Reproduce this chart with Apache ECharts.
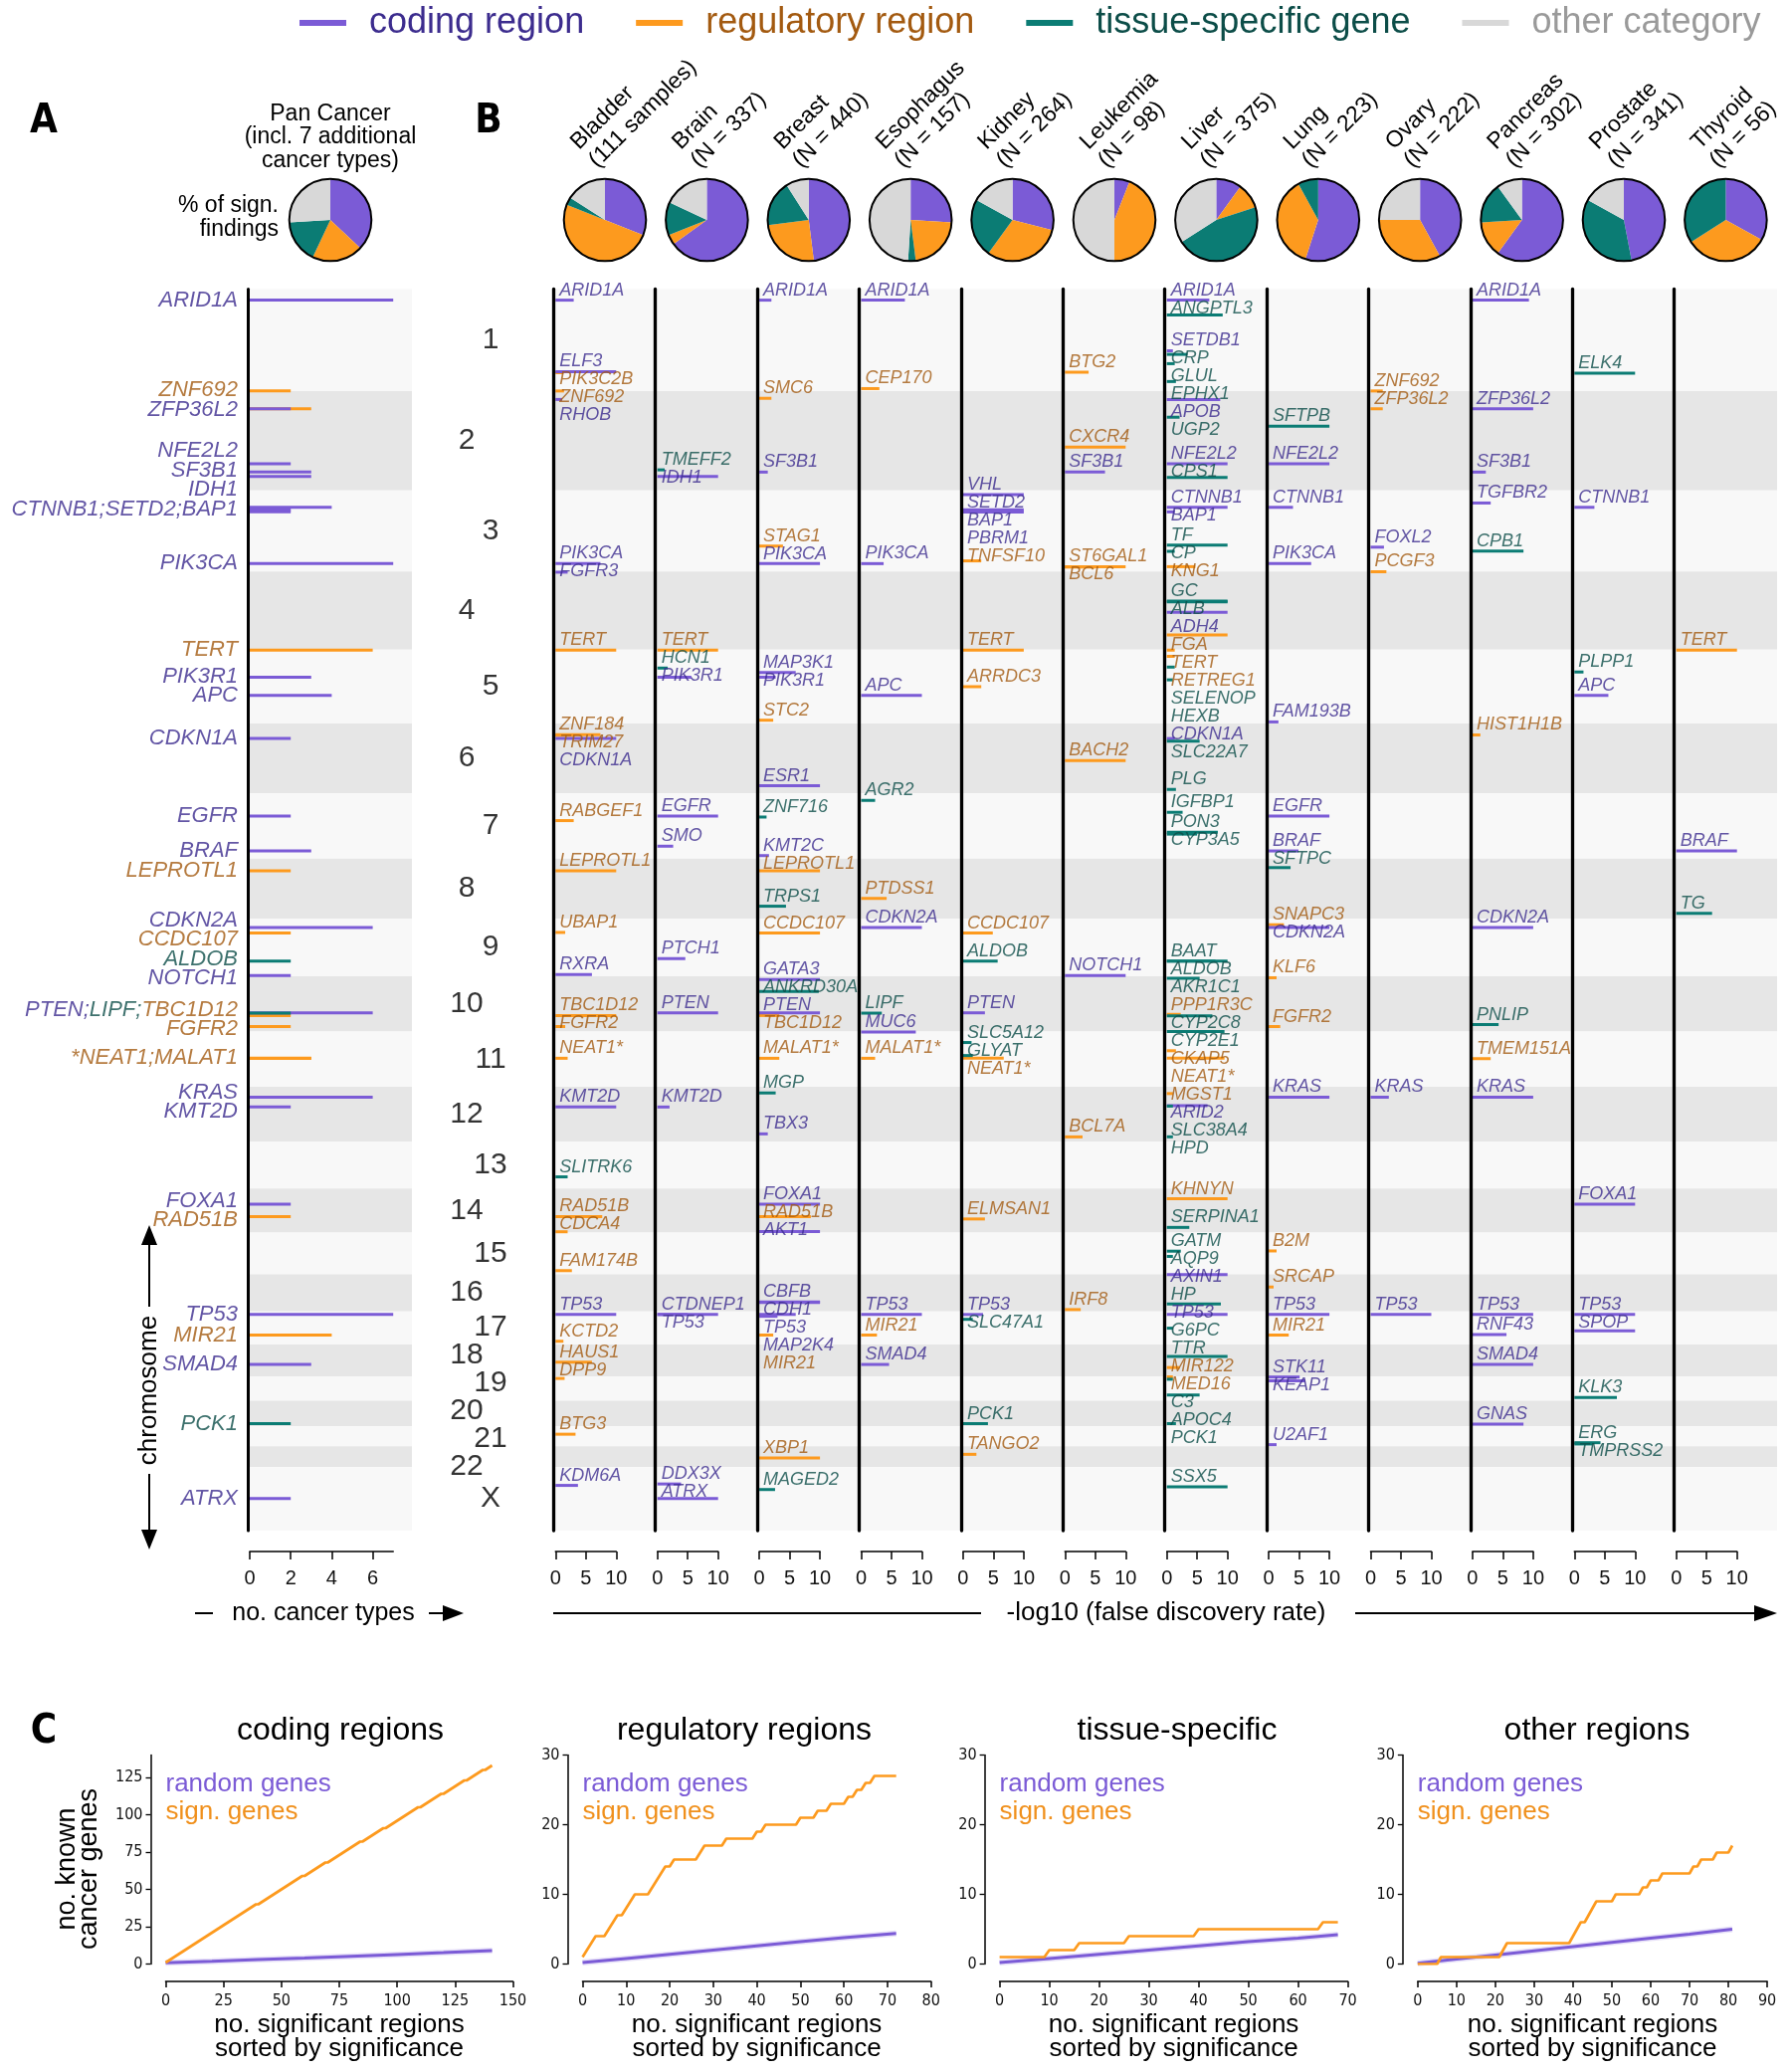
<!DOCTYPE html>
<html>
<head>
<meta charset="utf-8">
<title>Significant regions per cancer type</title>
<script src="https://cdn.jsdelivr.net/npm/echarts@6.0.0/dist/echarts.min.js"></script>
<style>
html,body{margin:0;padding:0;background:#ffffff;}
#chart{width:1800px;height:2082px;}
</style>
</head>
<body>
<div id="chart"></div>
<script>
// ======================= DATA =======================
const chromNames = ['1','2','3','4','5','6','7','8','9','10','11','12','13','14','15','16','17','18','19','20','21','22','X'];
const chromLengthsMb = [249.25,243.20,198.02,191.15,180.92,171.12,159.14,146.36,141.21,135.53,135.01,133.85,115.17,107.35,102.53,90.35,81.20,78.08,59.13,63.03,48.13,51.30,155.27];

// gene -> [chromosome, position in Mb]
const geneLocations = {
  ARID1A:['1',27.0], ELF3:['1',201.98], PIK3C2B:['1',204.4], ZNF692:['1',249.1], ANGPTL3:['1',63.06], SETDB1:['1',150.9],
  CRP:['1',159.68], GLUL:['1',182.35], EPHX1:['1',226.0], CEP170:['1',243.3], BTG2:['1',203.27], ELK4:['1',205.6],
  RHOB:['2',20.65], ZFP36L2:['2',43.45], NFE2L2:['2',178.1], SF3B1:['2',198.26], IDH1:['2',209.1], TMEFF2:['2',192.8],
  SMC6:['2',17.8], CXCR4:['2',136.87], APOB:['2',21.2], UGP2:['2',64.07], CPS1:['2',211.4], SFTPB:['2',85.9],
  CTNNB1:['3',41.24], SETD2:['3',47.1], BAP1:['3',52.4], PBRM1:['3',52.6], VHL:['3',10.18], PIK3CA:['3',178.9],
  FOXL2:['3',138.66], TGFBR2:['3',30.65], CPB1:['3',148.5], TF:['3',133.46], CP:['3',148.9], ST6GAL1:['3',186.6],
  BCL6:['3',187.4], TNFSF10:['3',172.2], KNG1:['3',186.4], STAG1:['3',136.0],
  FGFR3:['4',1.8], PCGF3:['4',0.7], GC:['4',72.6], ALB:['4',74.27], ADH4:['4',100.0], FGA:['4',155.5],
  TERT:['5',1.3], PIK3R1:['5',67.5], APC:['5',112.1], MAP3K1:['5',56.1], HCN1:['5',45.2], ARRDC3:['5',90.7],
  RETREG1:['5',16.5], SELENOP:['5',42.8], HEXB:['5',74.0], PLPP1:['5',54.8], FAM193B:['5',176.9], STC2:['5',172.7],
  ZNF184:['6',27.4], TRIM27:['6',28.9], CDKN1A:['6',36.6], HIST1H1B:['6',27.8], ESR1:['6',152.1], BACH2:['6',90.6],
  SLC22A7:['6',43.3], PLG:['6',161.1],
  RABGEF1:['7',66.2], EGFR:['7',55.1], SMO:['7',128.8], KMT2C:['7',151.8], BRAF:['7',140.4], IGFBP1:['7',45.9],
  PON3:['7',94.9], CYP3A5:['7',99.2], AGR2:['7',16.8], ZNF716:['7',57.5],
  LEPROTL1:['8',29.95], PTDSS1:['8',97.3], TRPS1:['8',116.4], SFTPC:['8',22.0], TG:['8',133.9],
  CDKN2A:['9',21.97], CCDC107:['9',35.6], ALDOB:['9',104.2], NOTCH1:['9',139.4], UBAP1:['9',34.2], RXRA:['9',137.2],
  PTCH1:['9',98.2], BAAT:['9',104.1], SNAPC3:['9',15.4],
  PTEN:['10',89.6], LIPF:['10',90.4], TBC1D12:['10',96.1], FGFR2:['10',123.2], AKR1C1:['10',5.0], GATA3:['10',8.1],
  KLF6:['10',3.8], PPP1R3C:['10',93.4], CYP2C8:['10',96.8], CYP2E1:['10',135.3], ANKRD30A:['10',37.4], PNLIP:['10',118.3],
  NEAT1:['11',65.19], MALAT1:['11',65.27], GLYAT:['11',58.5], CKAP5:['11',46.8], MUC6:['11',1.0], SLC5A12:['11',26.7],
  TMEM151A:['11',66.1],
  KRAS:['12',25.4], KMT2D:['12',49.4], MGST1:['12',16.5], MGP:['12',15.03], ARID2:['12',46.1], SLC38A4:['12',47.2],
  HPD:['12',122.3], TBX3:['12',115.1], BCL7A:['12',122.5],
  SLITRK6:['13',86.4],
  FOXA1:['14',38.06], RAD51B:['14',68.3], KHNYN:['14',24.9], SERPINA1:['14',94.85], ELMSAN1:['14',74.2], AKT1:['14',105.2],
  CDCA4:['14',105.5],
  GATM:['15',45.6], B2M:['15',45.0], AQP9:['15',58.4], FAM174B:['15',93.2],
  CBFB:['16',67.1], CDH1:['16',68.8], AXIN1:['16',0.34], HP:['16',72.1], SRCAP:['16',30.7], IRF8:['16',85.9],
  TP53:['17',7.57], CTDNEP1:['17',7.15], MIR21:['17',57.9], MAP2K4:['17',12.0], RNF43:['17',56.4], SPOP:['17',47.7],
  KCTD2:['17',73.0], SLC47A1:['17',19.4], G6PC:['17',41.05],
  SMAD4:['18',48.6], TTR:['18',29.17], HAUS1:['18',42.7], MIR122:['18',56.1],
  DPP9:['19',4.7], STK11:['19',1.2], KEAP1:['19',10.6], MED16:['19',0.87], C3:['19',6.7], APOC4:['19',45.4], KLK3:['19',51.36],
  PCK1:['20',56.1], GNAS:['20',57.4],
  ERG:['21',39.75], TMPRSS2:['21',42.85], U2AF1:['21',44.5], BTG3:['21',18.96],
  XBP1:['22',29.19], TANGO2:['22',20.0],
  MAGED2:['X',54.8], SSX5:['X',48.0], KDM6A:['X',44.7], DDX3X:['X',41.2], ATRX:['X',76.8]
};

const categoryNames = { c:'coding region', r:'regulatory region', t:'tissue-specific gene', o:'other category' };

// Panel A: number of cancer types with the region significant
const panCancerBars = [
  ['ARID1A','c',7],['ZNF692','r',2],['ZFP36L2','r',3],['ZFP36L2','c',2],['NFE2L2','c',2],['SF3B1','c',3],['IDH1','c',3],
  ['CTNNB1','c',4],['SETD2','c',2],['BAP1','c',2],['PIK3CA','c',7],['TERT','r',6],['PIK3R1','c',3],['APC','c',4],
  ['CDKN1A','c',2],['EGFR','c',2],['BRAF','c',3],['LEPROTL1','r',2],['CDKN2A','c',6],['CCDC107','r',2],['ALDOB','t',2],
  ['NOTCH1','c',2],['PTEN','c',6],['LIPF','t',2],['TBC1D12','r',2],['FGFR2','r',2],['NEAT1','r',3],['MALAT1','r',3],
  ['KRAS','c',6],['KMT2D','c',2],['FOXA1','c',2],['RAD51B','r',2],['TP53','c',7],['MIR21','r',4],['SMAD4','c',3],
  ['PCK1','t',2],['ATRX','c',2]
];
const panCancerLabels = [
  ['ARID1A',[['ARID1A','c']]], ['ZNF692',[['ZNF692','r']]], ['ZFP36L2',[['ZFP36L2','c']]], ['NFE2L2',[['NFE2L2','c']]],
  ['SF3B1',[['SF3B1','c']]], ['IDH1',[['IDH1','c']]], ['CTNNB1',[['CTNNB1;SETD2;BAP1','c']]], ['PIK3CA',[['PIK3CA','c']]],
  ['TERT',[['TERT','r']]], ['PIK3R1',[['PIK3R1','c']]], ['APC',[['APC','c']]], ['CDKN1A',[['CDKN1A','c']]],
  ['EGFR',[['EGFR','c']]], ['BRAF',[['BRAF','c']]], ['LEPROTL1',[['LEPROTL1','r']]], ['CDKN2A',[['CDKN2A','c']]],
  ['CCDC107',[['CCDC107','r']]], ['ALDOB',[['ALDOB','t']]], ['NOTCH1',[['NOTCH1','c']]],
  ['PTEN',[['PTEN;','c'],['LIPF;','t'],['TBC1D12','r']]], ['FGFR2',[['FGFR2','r']]], ['NEAT1',[['*NEAT1;MALAT1','r']]],
  ['KRAS',[['KRAS','c']]], ['KMT2D',[['KMT2D','c']]], ['FOXA1',[['FOXA1','c']]], ['RAD51B',[['RAD51B','r']]],
  ['TP53',[['TP53','c']]], ['MIR21',[['MIR21','r']]], ['SMAD4',[['SMAD4','c']]], ['PCK1',[['PCK1','t']]], ['ATRX',[['ATRX','c']]]
];
// share of significant findings per category [coding, regulatory, tissue-specific, other] (%)
const panCancerShares = [37, 20, 17, 26];

const cancerTypes = ['Bladder','Brain','Breast','Esophagus','Kidney','Leukemia','Liver','Lung','Ovary','Pancreas','Prostate','Thyroid'];
const cancerSampleNotes = ['(111 samples)','(N = 337)','(N = 440)','(N = 157)','(N = 264)','(N = 98)','(N = 375)','(N = 223)','(N = 222)','(N = 302)','(N = 341)','(N = 56)'];
const cancerShares = [
  [31,50,3,16],[65,4,13,18],[48,25,18,9],[26,22,3,49],[29,31,23,17],[6,44,0,50],
  [10,10,46,34],[55,37,8,0],[42,33,0,25],[60,14,16,10],[47,0,36,17],[33,33,34,0]
];

// Panel B: [gene, category, -log10 FDR]
const bladderHits = [['ARID1A','c',3],['ELF3','c',10],['PIK3C2B','r',1.3],['ZNF692','r',1.4],['RHOB','c',1.1],['PIK3CA','c',7.4],
  ['FGFR3','c',2],['TERT','r',10],['ZNF184','r',7.4],['TRIM27','r',3],['CDKN1A','c',10],['RABGEF1','r',3],['LEPROTL1','r',10],
  ['UBAP1','r',1.6],['RXRA','c',6],['TBC1D12','r',10],['FGFR2','r',1.6],['NEAT1*','r',2],['KMT2D','c',10],['SLITRK6','t',2],
  ['RAD51B','r',7.7],['CDCA4','r',2],['FAM174B','r',2.7],['TP53','c',10],['KCTD2','r',1.3],['HAUS1','r',6],['DPP9','r',1.5],
  ['BTG3','r',3.3],['KDM6A','c',3.7]];
const brainHits = [['TMEFF2','t',1.2],['IDH1','c',10],['TERT','r',10],['HCN1','t',1.7],['PIK3R1','c',5.6],['EGFR','c',10],
  ['SMO','c',2.6],['PTCH1','c',4.6],['PTEN','c',10],['KMT2D','c',2],['CTDNEP1','c',10],['TP53','c',5],['DDX3X','c',3.9],['ATRX','c',10]];
const breastHits = [['ARID1A','c',2],['SMC6','r',2],['SF3B1','c',1.4],['STAG1','r',3.9],['PIK3CA','c',10],['MAP3K1','c',6],
  ['PIK3R1','c',2.7],['STC2','r',2.3],['ESR1','c',10],['ZNF716','t',1.2],['KMT2C','c',1.6],['LEPROTL1','r',10],['TRPS1','t',4.4],
  ['CCDC107','r',10],['GATA3','c',10],['ANKRD30A','t',9.8],['PTEN','c',10],['TBC1D12','r',3.3],['MALAT1*','r',3.3],['MGP','t',2.7],
  ['TBX3','c',1.4],['FOXA1','c',10],['RAD51B','r',8.5],['AKT1','c',10],['CBFB','c',10],['CDH1','c',10],['TP53','c',6],
  ['MAP2K4','c',3],['MIR21','r',2.3],['XBP1','r',10],['MAGED2','t',2.6]];
const esophagusHits = [['ARID1A','c',7.2],['CEP170','r',3],['PIK3CA','c',3.7],['APC','c',10],['AGR2','t',2.3],['PTDSS1','r',4.2],
  ['CDKN2A','c',10],['LIPF','t',3.4],['MUC6','c',9],['MALAT1*','r',2.3],['TP53','c',10],['MIR21','r',2.6],['SMAD4','c',4.6]];
const kidneyHits = [['VHL','c',10],['SETD2','c',10],['BAP1','c',6],['PBRM1','c',10],['TNFSF10','r',3],['TERT','r',10],['ARRDC3','r',3],
  ['CCDC107','r',4.9],['ALDOB','t',5.7],['PTEN','c',3.6],['SLC5A12','t',1.4],['GLYAT','t',1.6],['NEAT1*','r',6.7],['ELMSAN1','r',3.6],
  ['TP53','c',3.3],['SLC47A1','t',1.6],['PCK1','t',4.1],['TANGO2','r',2.2]];
const leukemiaHits = [['BTG2','r',3.9],['CXCR4','r',10],['SF3B1','c',6.6],['ST6GAL1','r',10],['BCL6','r',5],['BACH2','r',10],
  ['NOTCH1','c',10],['BCL7A','r',2.9],['IRF8','r',2.6]];
const liverHits = [['ARID1A','c',7],['ANGPTL3','t',9.2],['SETDB1','c',1],['CRP','t',3.4],['GLUL','t',1.3],['EPHX1','t',1.5],
  ['APOB','c',8.8],['UGP2','t',2.1],['NFE2L2','c',10],['CPS1','t',10],['CTNNB1','c',10],['BAP1','c',1.3],['TF','t',10],['CP','t',1.3],
  ['KNG1','r',4.7],['GC','t',10],['ALB','t',10],['ADH4','c',10],['FGA','r',10],['TERT','r',1.3],['RETREG1','r',1.3],['SELENOP','t',1.3],
  ['HEXB','t',1.0],['CDKN1A','c',1.3],['SLC22A7','t',5.4],['PLG','t',1.5],['IGFBP1','t',2.6],['PON3','t',8.4],['CYP3A5','t',5],
  ['BAAT','t',10],['ALDOB','t',8],['AKR1C1','t',5.4],['PPP1R3C','r',2.3],['CYP2C8','t',7.5],['CYP2E1','t',9.5],['CKAP5','r',1.5],
  ['NEAT1*','r',9.5],['MGST1','r',1.0],['ARID2','c',6.7],['SLC38A4','t',1.0],['HPD','t',1.0],['KHNYN','r',10],['SERPINA1','t',3.7],
  ['GATM','t',2.3],['AQP9','t',1.0],['AXIN1','c',10],['HP','t',8.9],['TP53','c',10],['G6PC','t',1.0],['TTR','t',10],['MIR122','r',2.1],
  ['MED16','r',1.0],['C3','t',1.0],['APOC4','t',5.4],['PCK1','t',1.5],['SSX5','t',10]];
const lungHits = [['SFTPB','t',10],['NFE2L2','c',10],['CTNNB1','c',4],['PIK3CA','c',7],['FAM193B','c',1.6],['EGFR','c',10],['BRAF','c',4.9],
  ['SFTPC','t',3.6],['SNAPC3','r',2.5],['CDKN2A','c',10],['KLF6','r',1.3],['FGFR2','r',1.9],['KRAS','c',10],['B2M','r',1.3],
  ['SRCAP','r',0.8],['TP53','c',10],['MIR21','r',3.3],['STK11','c',5.1],['KEAP1','c',6],['U2AF1','c',1.3]];
const ovaryHits = [['ZNF692','r',2],['ZFP36L2','r',2],['FOXL2','c',2.2],['PCGF3','r',2.6],['KRAS','c',3],['TP53','c',10]];
const pancreasHits = [['ARID1A','c',9.3],['ZFP36L2','c',10],['SF3B1','c',2.2],['TGFBR2','c',3],['CPB1','t',8.4],['HIST1H1B','r',1.3],
  ['CDKN2A','c',10],['PNLIP','t',4.3],['TMEM151A','r',3],['KRAS','c',10],['TP53','c',10],['RNF43','c',5.6],['SMAD4','c',10],['GNAS','c',8.4]];
const prostateHits = [['ELK4','t',10],['CTNNB1','c',3.3],['PLPP1','t',1.5],['APC','c',5.6],['FOXA1','c',10],['TP53','c',10],['SPOP','c',10],
  ['KLK3','t',7],['ERG','t',4.3],['TMPRSS2','t',3]];
const thyroidHits = [['TERT','r',10],['BRAF','c',10],['TG','t',5.9]];
const cancerHits = [bladderHits, brainHits, breastHits, esophagusHits, kidneyHits, leukemiaHits, liverHits, lungHits, ovaryHits, pancreasHits, prostateHits, thyroidHits];

// Panel C: cumulative no. of known cancer genes among the top-k regions
const codingSign = [1,2,3,4,5,6,7,8,9,10,11,12,13,14,15,16,17,18,19,20,21,22,23,24,25,26,27,28,29,30,31,32,33,34,35,36,37,38,39,40,
  40,41,42,43,44,45,46,47,48,49,50,51,52,53,54,55,56,57,58,59,59,60,61,62,63,64,65,66,67,68,68,
  69,70,71,72,73,74,75,76,77,78,79,80,81,82,82,83,84,85,86,87,88,89,90,91,91,
  92,93,94,95,96,97,98,99,100,101,102,103,104,105,105,106,107,108,109,110,111,112,113,114,114,
  115,116,117,118,119,120,121,122,123,123,124,125,126,127,128,129,130,130,131,132,133];
const codingRandom = [[0,0.8],[20,1.8],[40,3.0],[60,4.0],[80,5.2],[100,6.4],[120,7.6],[141,9.0]];
const regulatorySign = [1,2,3,4,4,4,5,6,7,7,8,9,10,10,10,10,11,12,13,14,14,15,15,15,15,15,15,16,17,17,17,17,17,
  18,18,18,18,18,18,18,19,19,20,20,20,20,20,20,20,20,21,21,21,21,22,22,22,23,23,23,23,24,24,25,25,26,26,27,27,27,27,27,27];
const regulatoryRandom = [[0,0.2],[10,0.8],[20,1.4],[30,2.0],[40,2.6],[50,3.2],[60,3.8],[72,4.4]];
const tissueSign = [1,1,1,1,1,1,1,1,1,1,2,2,2,2,2,2,3,3,3,3,3,3,3,3,3,3,4,4,4,4,4,4,4,4,4,4,4,4,4,4,
  5,5,5,5,5,5,5,5,5,5,5,5,5,5,5,5,5,5,5,5,5,5,5,5,5,6,6,6,6];
const tissueRandom = [[0,0.2],[10,0.8],[20,1.4],[30,2.0],[40,2.6],[50,3.2],[60,3.7],[68,4.2]];
const otherSign = [0,0,0,0,0,0,1,1,1,1,1,1,1,1,1,1,1,1,1,1,1,1,2,3,3,3,3,3,3,3,3,3,3,3,3,3,3,3,3,3,
  4,5,6,6,7,8,9,9,9,9,9,10,10,10,10,10,10,10,11,11,12,12,12,13,13,13,13,13,13,13,13,14,14,15,15,15,15,16,16,16,16,17];
const otherRandom = [[0,0.1],[10,0.7],[20,1.3],[30,1.9],[40,2.5],[50,3.1],[60,3.7],[70,4.3],[81,5.0]];

// ======================= STYLE / LAYOUT =======================
const FONT = "'Liberation Sans', Arial, Helvetica, sans-serif";
const NARROW = "'Liberation Sans Narrow', 'Arial Narrow', 'DejaVu Sans Condensed', 'Liberation Sans', sans-serif";
const barColors = { c:'#7B5BD6', r:'#FD9A1E', t:'#0B7C74', o:'#D8D8D8' };
const textColors = { c:'#3C2C8E', r:'#A35A10', t:'#0C4D48', o:'#9A9A9A' };
const drawOrder = { r:0, c:1, t:2 };
const PLOT_TOP = 290.5, PLOT_H = 1247.5;
const A_LEFT = 251, A_PPU = 20.6;
const B_LEFT0 = 558.3, B_STEP = 102.4, B_PPU = 6.1;
const PIE_X0 = 608, PIE_Y = 221, PIE_R = 41.3;
const TITLE_Y = 1621;

// cumulative genome coordinates
const chromStart = [];
let genomeTotal = 0;
chromLengthsMb.forEach(L => { chromStart.push(genomeTotal); genomeTotal += L; });
const MB_PX = PLOT_H / genomeTotal;
function genomePos(gene) {
  const loc = geneLocations[gene.replace('*', '')];
  return chromStart[chromNames.indexOf(loc[0])] + loc[1];
}
// label de-overlap (labels slide downwards)
function pushDown(desired, gap) {
  const idx = desired.map((d, i) => i).sort((a, b) => desired[a] - desired[b]);
  const out = []; let prev = -Infinity;
  idx.forEach(i => { const p = Math.max(desired[i], prev + gap); out[i] = p; prev = p; });
  return out;
}
// label de-overlap (symmetric clusters)
function clusterRepel(desired, gap) {
  const idx = desired.map((d, i) => i).sort((a, b) => desired[a] - desired[b]);
  const cl = [];
  const place = c => { let s = 0; c.m.forEach((i, k) => { s += desired[i] - k * gap; }); c.s = s / c.m.length; };
  idx.forEach(i => {
    const c = { m: [i] }; place(c); cl.push(c);
    while (cl.length > 1) {
      const p = cl[cl.length - 2], q = cl[cl.length - 1];
      if (p.s + p.m.length * gap > q.s) { p.m = p.m.concat(q.m); place(p); cl.pop(); } else break;
    }
  });
  const out = [];
  cl.forEach(c => c.m.forEach((i, k) => { out[i] = c.s + k * gap; }));
  return out;
}

const grid = [], xAxis = [], yAxis = [], series = [], graphic = [];
function addGrid(rect, xa, ya) {
  const i = grid.length;
  grid.push(Object.assign({ containLabel: false, outerBoundsMode: 'none' }, rect));
  xAxis.push(Object.assign({ gridIndex: i }, xa));
  yAxis.push(Object.assign({ gridIndex: i }, ya));
  return i;
}
const hiddenAxis = (min, max) => ({ type: 'value', min: min, max: max, show: false });
function genomeAxis(extra) {
  return Object.assign({ type: 'value', inverse: true, min: 0, max: genomeTotal,
    axisLine: { show: false, onZero: false }, axisTick: { show: false }, axisLabel: { show: false }, splitLine: { show: false } }, extra || {});
}
function bottomAxis(max, ticks, offset, fontSize, labelFont, margin, tickLen) {
  return { type: 'value', min: 0, max: max, position: 'bottom', offset: offset, z: 6,
    axisLine: { show: true, onZero: false, lineStyle: { color: '#000', width: 1.6 } },
    axisTick: { show: true, length: tickLen, customValues: ticks, lineStyle: { color: '#000', width: 1.5 } },
    axisLabel: { show: true, customValues: ticks, fontSize: fontSize, color: '#111', margin: margin, fontFamily: labelFont },
    splitLine: { show: false } };
}
const bandData = chromNames.map((n, i) => [0, chromStart[i], chromStart[i] + chromLengthsMb[i], i]);
function bandSeries(gi) {
  return { type: 'custom', xAxisIndex: gi, yAxisIndex: gi, silent: true, z: 0, encode: { x: 0, y: [1, 2] }, data: bandData,
    renderItem: (params, api) => {
      const cs = params.coordSys;
      const y0 = api.coord([0, api.value(1)])[1], y1 = api.coord([0, api.value(2)])[1];
      return { type: 'rect', shape: { x: cs.x, y: y0, width: cs.width, height: y1 - y0 },
        style: { fill: api.value(3) % 2 ? '#E6E6E6' : '#F8F8F8' } };
    } };
}
function barSeries(gi, hits, thick) {
  const items = hits.slice().sort((a, b) => drawOrder[a[1]] - drawOrder[b[1]])
    .map(h => ({ value: [h[2], genomePos(h[0])], cat: h[1] }));
  return { type: 'custom', xAxisIndex: gi, yAxisIndex: gi, silent: true, z: 3, encode: { x: 0, y: 1 },
    data: items.map(d => d.value),
    renderItem: (params, api) => {
      const p0 = api.coord([0, api.value(1)]), p1 = api.coord([api.value(0), api.value(1)]);
      return { type: 'rect', shape: { x: p0[0], y: p0[1] - thick / 2, width: p1[0] - p0[0], height: thick },
        style: { fill: barColors[items[params.dataIndex].cat] } };
    } };
}

// ---------- Panel A ----------
const gABg = addGrid({ left: A_LEFT, top: PLOT_TOP, width: 163, height: PLOT_H }, hiddenAxis(0, 1), genomeAxis({ show: false }));
series.push(bandSeries(gABg));
const gA = addGrid({ left: A_LEFT, top: PLOT_TOP, width: 7 * A_PPU, height: PLOT_H },
  bottomAxis(7, [0, 2, 4, 6], 21, 20, FONT, 17, 8),
  genomeAxis({ offset: 1.5, z: 6, axisLine: { show: true, onZero: false, lineStyle: { color: '#000', width: 3 } } }));
series.push(barSeries(gA, panCancerBars, 3));
{
  const desired = panCancerLabels.map(l => genomePos(l[0]));
  const pos = clusterRepel(desired, 19.5 / MB_PX);
  const rich = {};
  ['c', 'r', 't'].forEach(k => { rich[k] = { color: textColors[k], fontSize: 22, fontStyle: 'italic', fontFamily: FONT }; });
  series.push({ type: 'scatter', xAxisIndex: gA, yAxisIndex: gA, silent: true, clip: false, z: 7, symbolSize: 0,
    itemStyle: { color: 'rgba(0,0,0,0)' },
    data: panCancerLabels.map((l, i) => ({ value: [0, pos[i]], name: l[1].map(p => '{' + p[1] + '|' + p[0] + '}').join('') })),
    label: { show: true, formatter: p => p.name, position: [-12, 0], align: 'right', verticalAlign: 'middle', rich: rich } });
}

// chromosome numbers
{
  const gChr = addGrid({ left: 469, top: PLOT_TOP, width: 24, height: PLOT_H }, hiddenAxis(0, 1), genomeAxis({ show: false }));
  const mids = chromNames.map((n, i) => chromStart[i] + chromLengthsMb[i] / 2);
  const pos = clusterRepel(mids, 28 / MB_PX);
  series.push({ type: 'scatter', xAxisIndex: gChr, yAxisIndex: gChr, silent: true, clip: false, z: 7, symbolSize: 0,
    itemStyle: { color: 'rgba(0,0,0,0)' },
    data: chromNames.map((n, i) => ({ value: [i % 2 === 0 ? 1 : 0, pos[i]], name: n })),
    label: { show: true, formatter: p => p.name, position: [0, 0], align: 'center', verticalAlign: 'middle',
      fontSize: 30, color: '#000', fontFamily: FONT } });
}

// ---------- Panel B ----------
const gBBg = addGrid({ left: 558, top: PLOT_TOP, width: 1228, height: PLOT_H }, hiddenAxis(0, 1), genomeAxis({ show: false }));
series.push(bandSeries(gBBg));
cancerHits.forEach((hits, ci) => {
  const gi = addGrid({ left: B_LEFT0 + ci * B_STEP, top: PLOT_TOP, width: 10 * B_PPU, height: PLOT_H },
    bottomAxis(10, [0, 5, 10], 21, 20, FONT, 17, 8),
    genomeAxis({ offset: 2, z: 6, axisLine: { show: true, onZero: false, lineStyle: { color: '#000', width: 3.3 } } }));
  series.push(barSeries(gi, hits, 3));
  const desired = hits.map(h => genomePos(h[0]));
  const pos = pushDown(desired, 18 / MB_PX);
  series.push({ type: 'scatter', xAxisIndex: gi, yAxisIndex: gi, silent: true, clip: false, z: 7, symbolSize: 0,
    itemStyle: { color: 'rgba(0,0,0,0)' },
    data: hits.map((h, i) => ({ value: [0, pos[i]], name: h[0], label: { color: textColors[h[1]] } })),
    label: { show: true, formatter: p => p.name, position: [4, -10], align: 'left', verticalAlign: 'middle',
      fontSize: 18, fontStyle: 'italic', fontFamily: FONT } });
});

// ---------- Pies ----------
function pieSeries(cx, shares) {
  return { type: 'pie', center: [cx, PIE_Y], radius: PIE_R, silent: true, startAngle: 90, clockwise: true,
    label: { show: false }, labelLine: { show: false }, emphasis: { disabled: true },
    itemStyle: { borderWidth: 0 },
    data: ['c', 'r', 't', 'o'].map((k, i) => ({ name: categoryNames[k], value: shares[i], itemStyle: { color: barColors[k] } })) };
}
series.push(pieSeries(332, panCancerShares));
graphic.push({ type: 'circle', shape: { cx: 332, cy: PIE_Y, r: PIE_R }, style: { fill: 'none', stroke: '#000', lineWidth: 2 }, z: 100 });
cancerTypes.forEach((name, i) => {
  const cx = PIE_X0 + i * B_STEP;
  series.push(pieSeries(cx, cancerShares[i]));
  graphic.push({ type: 'circle', shape: { cx: cx, cy: PIE_Y, r: PIE_R }, style: { fill: 'none', stroke: '#000', lineWidth: 2 }, z: 100 });
  graphic.push({ type: 'text', x: cx - 3, y: 174, rotation: 45 * Math.PI / 180, z: 100,
    style: { text: name + '\n' + cancerSampleNotes[i], fill: '#000', fontSize: 23, fontFamily: FONT, lineHeight: 26,
      align: 'left', verticalAlign: 'bottom' } });
});

// ---------- Panel C ----------
function addC(left, width, xmax, xticks, ymax, yticks, sign, random, title, titleX) {
  const gi = addGrid({ left: left, top: 1763.5, width: width, height: 210 },
    Object.assign(bottomAxis(xmax, xticks, 17.5, 16, NARROW, 12, 6), {
      name: 'no. significant regions\nsorted by significance', nameLocation: 'middle', nameGap: 32,
      nameTextStyle: { fontSize: 26, lineHeight: 24, color: '#000', fontFamily: FONT, verticalAlign: 'top' } }),
    { type: 'value', min: 0, max: ymax, position: 'left', offset: 15, z: 6,
      axisLine: { show: true, onZero: false, lineStyle: { color: '#000', width: 1.5 } },
      axisTick: { show: true, length: 5, customValues: yticks, lineStyle: { color: '#000', width: 1.3 } },
      axisLabel: { show: true, customValues: yticks, fontSize: 16, color: '#111', margin: 8, fontFamily: NARROW },
      splitLine: { show: false } });
  const signData = sign.map((v, k) => [k, v]);
  series.push({ type: 'line', xAxisIndex: gi, yAxisIndex: gi, silent: true, showSymbol: false, data: random, z: 3,
    lineStyle: { color: '#7B5BD6', width: 6, opacity: 0.18 } });
  series.push({ type: 'line', xAxisIndex: gi, yAxisIndex: gi, silent: true, showSymbol: false, data: random, z: 4,
    lineStyle: { color: '#7B5BD6', width: 3 } });
  series.push({ type: 'line', xAxisIndex: gi, yAxisIndex: gi, silent: true, showSymbol: false, data: signData, z: 6,
    lineStyle: { color: '#FD9A1E', width: 2.7 } });
  graphic.push({ type: 'text', x: titleX, y: 1739, style: { text: title, fill: '#000', fontSize: 32, fontFamily: FONT, align: 'center', verticalAlign: 'middle' } });
  graphic.push({ type: 'text', x: left, y: 1793, style: { text: 'random genes', fill: '#7B5BD6', fontSize: 26, fontFamily: FONT, align: 'left', verticalAlign: 'middle' } });
  graphic.push({ type: 'text', x: left, y: 1821, style: { text: 'sign. genes', fill: '#F0901C', fontSize: 26, fontFamily: FONT, align: 'left', verticalAlign: 'middle' } });
}
addC(166.5, 349, 150, [0, 25, 50, 75, 100, 125, 150], 140, [0, 25, 50, 75, 100, 125], codingSign, codingRandom, 'coding regions', 342);
addC(585.5, 350.2, 80, [0, 10, 20, 30, 40, 50, 60, 70, 80], 30, [0, 10, 20, 30], regulatorySign, regulatoryRandom, 'regulatory regions', 748);
addC(1004.6, 350, 70, [0, 10, 20, 30, 40, 50, 60, 70], 30, [0, 10, 20, 30], tissueSign, tissueRandom, 'tissue-specific', 1183);
addC(1424.8, 351.3, 90, [0, 10, 20, 30, 40, 50, 60, 70, 80, 90], 30, [0, 10, 20, 30], otherSign, otherRandom, 'other regions', 1605);

// ---------- annotations ----------
const T = (x, y, text, size, extra) => graphic.push(Object.assign({ type: 'text', x: x, y: y, z: 100,
  style: Object.assign({ text: text, fill: '#000', fontSize: size, fontFamily: FONT, align: 'center', verticalAlign: 'middle' }, (extra && extra.style) || {}) },
  extra && extra.el || {}));
T(44, 123, 'A', 40, { style: { fontWeight: 'bold', fontFamily: NARROW } });
T(491, 123, 'B', 40, { style: { fontWeight: 'bold', fontFamily: NARROW } });
T(44, 1741, 'C', 40, { style: { fontWeight: 'bold', fontFamily: NARROW } });
T(332, 138, 'Pan Cancer\n(incl. 7 additional\ncancer types)', 23, { style: { lineHeight: 23.5 } });
T(280, 219, '% of sign.\nfindings', 23, { style: { align: 'right', lineHeight: 24 } });
T(325, TITLE_Y, 'no. cancer types', 25);
T(1172, TITLE_Y, '-log10 (false discovery rate)', 26);
T(79, 1878, 'no. known\ncancer genes', 27, { style: { lineHeight: 22 }, el: { rotation: Math.PI / 2 } });
T(150, 1397, 'chromosome', 26, { el: { rotation: Math.PI / 2 } });
const L = (x1, y1, x2, y2, w) => graphic.push({ type: 'line', z: 100, shape: { x1: x1, y1: y1, x2: x2, y2: y2 }, style: { stroke: '#000', lineWidth: w || 2 } });
const P = pts => graphic.push({ type: 'polygon', z: 100, shape: { points: pts }, style: { fill: '#000' } });
L(196, TITLE_Y, 214, TITLE_Y); L(431, TITLE_Y, 447, TITLE_Y);
P([[445, TITLE_Y - 8], [466, TITLE_Y], [445, TITLE_Y + 8]]);
L(556, TITLE_Y, 986, TITLE_Y); L(1362, TITLE_Y, 1766, TITLE_Y);
P([[1763, TITLE_Y - 8], [1786, TITLE_Y], [1763, TITLE_Y + 8]]);
L(150, 1248, 150, 1313); P([[142, 1251], [150, 1231], [158, 1251]]);
L(150, 1481, 150, 1540); P([[142, 1537], [150, 1557], [158, 1537]]);

// ======================= CHART =======================
const chart = echarts.init(document.getElementById('chart'), null, { renderer: 'canvas' });
chart.setOption({
  backgroundColor: '#ffffff',
  animation: false,
  textStyle: { fontFamily: FONT },
  legend: {
    top: 0, left: 296, itemWidth: 47, itemHeight: 6, itemGap: 52, icon: 'rect', selectedMode: false,
    textStyle: { fontSize: 36, fontFamily: FONT, padding: [0, 0, 0, 18] },
    data: ['c', 'r', 't', 'o'].map(k => ({ name: categoryNames[k], textStyle: { color: textColors[k] } }))
  },
  grid: grid, xAxis: xAxis, yAxis: yAxis, series: series, graphic: graphic
});
</script>
</body>
</html>
